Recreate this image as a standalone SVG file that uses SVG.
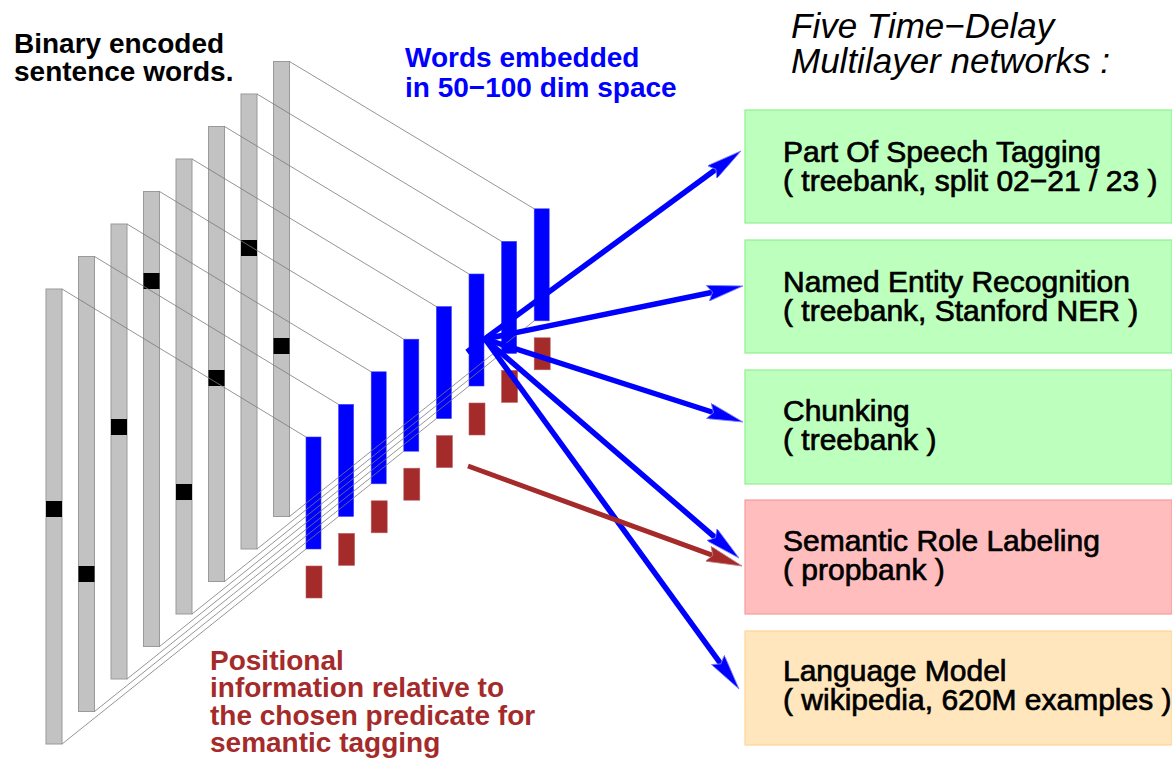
<svg xmlns="http://www.w3.org/2000/svg" width="1172" height="762" viewBox="0 0 1172 762">
<style>
.gbar{fill:#c2c2c2;stroke:#9a9a9a;stroke-width:1}
.bit{fill:#000}
.proj{stroke:#7a7a7a;stroke-width:0.8;fill:none}
.emb{fill:#0000ff;stroke:#3a3aff;stroke-width:0.6}
.pos{fill:#a52a2a;stroke:#b86060;stroke-width:0.6}
.arr{stroke:#0000ff;stroke-width:5.5;fill:none}
.arrr{stroke:#a52a2a;stroke-width:5;fill:none}
.lbl{font-family:"Liberation Sans",Arial,sans-serif;font-weight:bold;font-size:28px}
.box{font-family:"Liberation Sans",Arial,sans-serif;font-size:30px;fill:#000;stroke:#000;stroke-width:0.7}
.ttl{font-family:"Liberation Sans",Arial,sans-serif;font-style:italic;font-size:35px;fill:#000}
.green{fill:#bdffbd;stroke:#8ff08f;stroke-width:1.2}
.red{fill:#ffbdbd;stroke:#f79a9a;stroke-width:1.2}
.orange{fill:#ffe6bd;stroke:#ffd494;stroke-width:1.2}
</style>
<defs>
<marker id="ah" viewBox="0 0 36 16" refX="5" refY="8" markerWidth="36" markerHeight="16" markerUnits="userSpaceOnUse" orient="auto">
<path d="M0,0 L36,8 L0,16 L5,8 Z" fill="#0000ff" stroke="#8080ff" stroke-width="0.8"/>
</marker>
<marker id="ahr" viewBox="0 0 36 16" refX="5" refY="8" markerWidth="36" markerHeight="16" markerUnits="userSpaceOnUse" orient="auto">
<path d="M0,0 L36,8 L0,16 L5,8 Z" fill="#a52a2a" stroke="#c08080" stroke-width="0.8"/>
</marker>
</defs>
<rect width="1172" height="762" fill="#fff"/>

<g id="input-words">
<rect class="gbar" x="46" y="289" width="16" height="455"/>
<rect class="gbar" x="78.5" y="256.5" width="16" height="455"/>
<rect class="gbar" x="111" y="224" width="16" height="455"/>
<rect class="gbar" x="143.5" y="191.5" width="16" height="455"/>
<rect class="gbar" x="176" y="159" width="16" height="455"/>
<rect class="gbar" x="208.5" y="126.5" width="16" height="455"/>
<rect class="gbar" x="241" y="94" width="16" height="455"/>
<rect class="gbar" x="273.5" y="61.5" width="16" height="455"/>
<rect class="bit" x="46" y="501" width="16" height="16"/>
<rect class="bit" x="78.5" y="566" width="16" height="16"/>
<rect class="bit" x="111" y="419" width="16" height="16"/>
<rect class="bit" x="143.5" y="273" width="16" height="16"/>
<rect class="bit" x="176" y="484" width="16" height="16"/>
<rect class="bit" x="208.5" y="370" width="16" height="16"/>
<rect class="bit" x="241" y="240" width="16" height="16"/>
<rect class="bit" x="273.5" y="338" width="16" height="16"/>
</g>

<g id="embeddings">
<rect class="emb" x="306" y="437" width="15" height="112"/>
<rect class="emb" x="338.6" y="404.4" width="15" height="112"/>
<rect class="emb" x="371.2" y="371.8" width="15" height="112"/>
<rect class="emb" x="403.8" y="339.2" width="15" height="112"/>
<rect class="emb" x="436.4" y="306.6" width="15" height="112"/>
<rect class="emb" x="469" y="274" width="15" height="112"/>
<rect class="emb" x="501.6" y="241.4" width="15" height="112"/>
<rect class="emb" x="534.2" y="208.8" width="15" height="112"/>
</g>

<g id="positions">
<rect class="pos" x="306" y="566" width="16" height="32"/>
<rect class="pos" x="338.6" y="533.4" width="16" height="32"/>
<rect class="pos" x="371.2" y="500.8" width="16" height="32"/>
<rect class="pos" x="403.8" y="468.2" width="16" height="32"/>
<rect class="pos" x="436.4" y="435.6" width="16" height="32"/>
<rect class="pos" x="469" y="403" width="16" height="32"/>
<rect class="pos" x="501.6" y="370.4" width="16" height="32"/>
<rect class="pos" x="534.2" y="337.8" width="16" height="32"/>
</g>

<g id="projection-lines">
<line class="proj" x1="62" y1="289" x2="306" y2="437"/>
<line class="proj" x1="94.5" y1="256.5" x2="338.6" y2="404.4"/>
<line class="proj" x1="127" y1="224" x2="371.2" y2="371.8"/>
<line class="proj" x1="159.5" y1="191.5" x2="403.8" y2="339.2"/>
<line class="proj" x1="192" y1="159" x2="436.4" y2="306.6"/>
<line class="proj" x1="224.5" y1="126.5" x2="469" y2="274"/>
<line class="proj" x1="257" y1="94" x2="501.6" y2="241.4"/>
<line class="proj" x1="289.5" y1="61.5" x2="534.2" y2="208.8"/>
<line class="proj" x1="62" y1="744" x2="306" y2="549"/>
<line class="proj" x1="94.5" y1="711.5" x2="338.6" y2="516.4"/>
<line class="proj" x1="127" y1="679" x2="371.2" y2="483.8"/>
<line class="proj" x1="159.5" y1="646.5" x2="403.8" y2="451.2"/>
<line class="proj" x1="192" y1="614" x2="436.4" y2="418.6"/>
<line class="proj" x1="224.5" y1="581.5" x2="469" y2="386"/>
<line class="proj" x1="257" y1="549" x2="501.6" y2="353.4"/>
<line class="proj" x1="289.5" y1="516.5" x2="534.2" y2="320.8"/>
</g>

<g id="connectors">
<line class="arr" x1="467" y1="352" x2="716" y2="169.3" marker-end="url(#ah)"/>
<line class="arr" x1="485" y1="339" x2="712.6" y2="292.2" marker-end="url(#ah)"/>
<line class="arr" x1="485" y1="339" x2="713.5" y2="412.5" marker-end="url(#ah)"/>
<line class="arr" x1="485" y1="339" x2="715.5" y2="537.8" marker-end="url(#ah)"/>
<line class="arr" x1="485" y1="339" x2="720.8" y2="663.9" marker-end="url(#ah)"/>
<line class="arrr" x1="468" y1="466" x2="712.9" y2="555.4" marker-end="url(#ahr)"/>
</g>

<g id="node-pos">
<rect class="green" x="745" y="110" width="427" height="113"/>
<text class="box" x="783" y="162">Part Of Speech Tagging</text>
<text class="box" x="783" y="191">( treebank, split 02−21 / 23 )</text>
</g>
<g id="node-ner">
<rect class="green" x="745" y="240" width="427" height="113"/>
<text class="box" x="783" y="292">Named Entity Recognition</text>
<text class="box" x="783" y="321">( treebank, Stanford NER )</text>
</g>
<g id="node-chunk">
<rect class="green" x="745" y="370" width="427" height="114"/>
<text class="box" x="783" y="421">Chunking</text>
<text class="box" x="783" y="450">( treebank )</text>
</g>
<g id="node-srl">
<rect class="red" x="745" y="500" width="427" height="114"/>
<text class="box" x="783" y="551">Semantic Role Labeling</text>
<text class="box" x="783" y="580">( propbank )</text>
</g>
<g id="node-lm">
<rect class="orange" x="745" y="631" width="427" height="114"/>
<text class="box" x="783" y="681">Language Model</text>
<text class="box" x="783" y="710">( wikipedia, 620M examples )</text>
</g>

<g id="labels">
<text class="lbl" x="14" y="53" fill="#000">Binary encoded</text>
<text class="lbl" x="14" y="81" fill="#000">sentence words.</text>
<text class="lbl" x="405" y="67" fill="#0000ff">Words embedded</text>
<text class="lbl" x="405" y="97" fill="#0000ff">in 50−100 dim space</text>
<text class="lbl" x="210" y="670" fill="#a52a2a">Positional</text>
<text class="lbl" x="210" y="697" fill="#a52a2a">information relative to</text>
<text class="lbl" x="210" y="725" fill="#a52a2a">the chosen predicate for</text>
<text class="lbl" x="210" y="752" fill="#a52a2a">semantic tagging</text>
<text class="ttl" x="791" y="38">Five Time−Delay</text>
<text class="ttl" x="791" y="73">Multilayer networks :</text>
</g>
</svg>
